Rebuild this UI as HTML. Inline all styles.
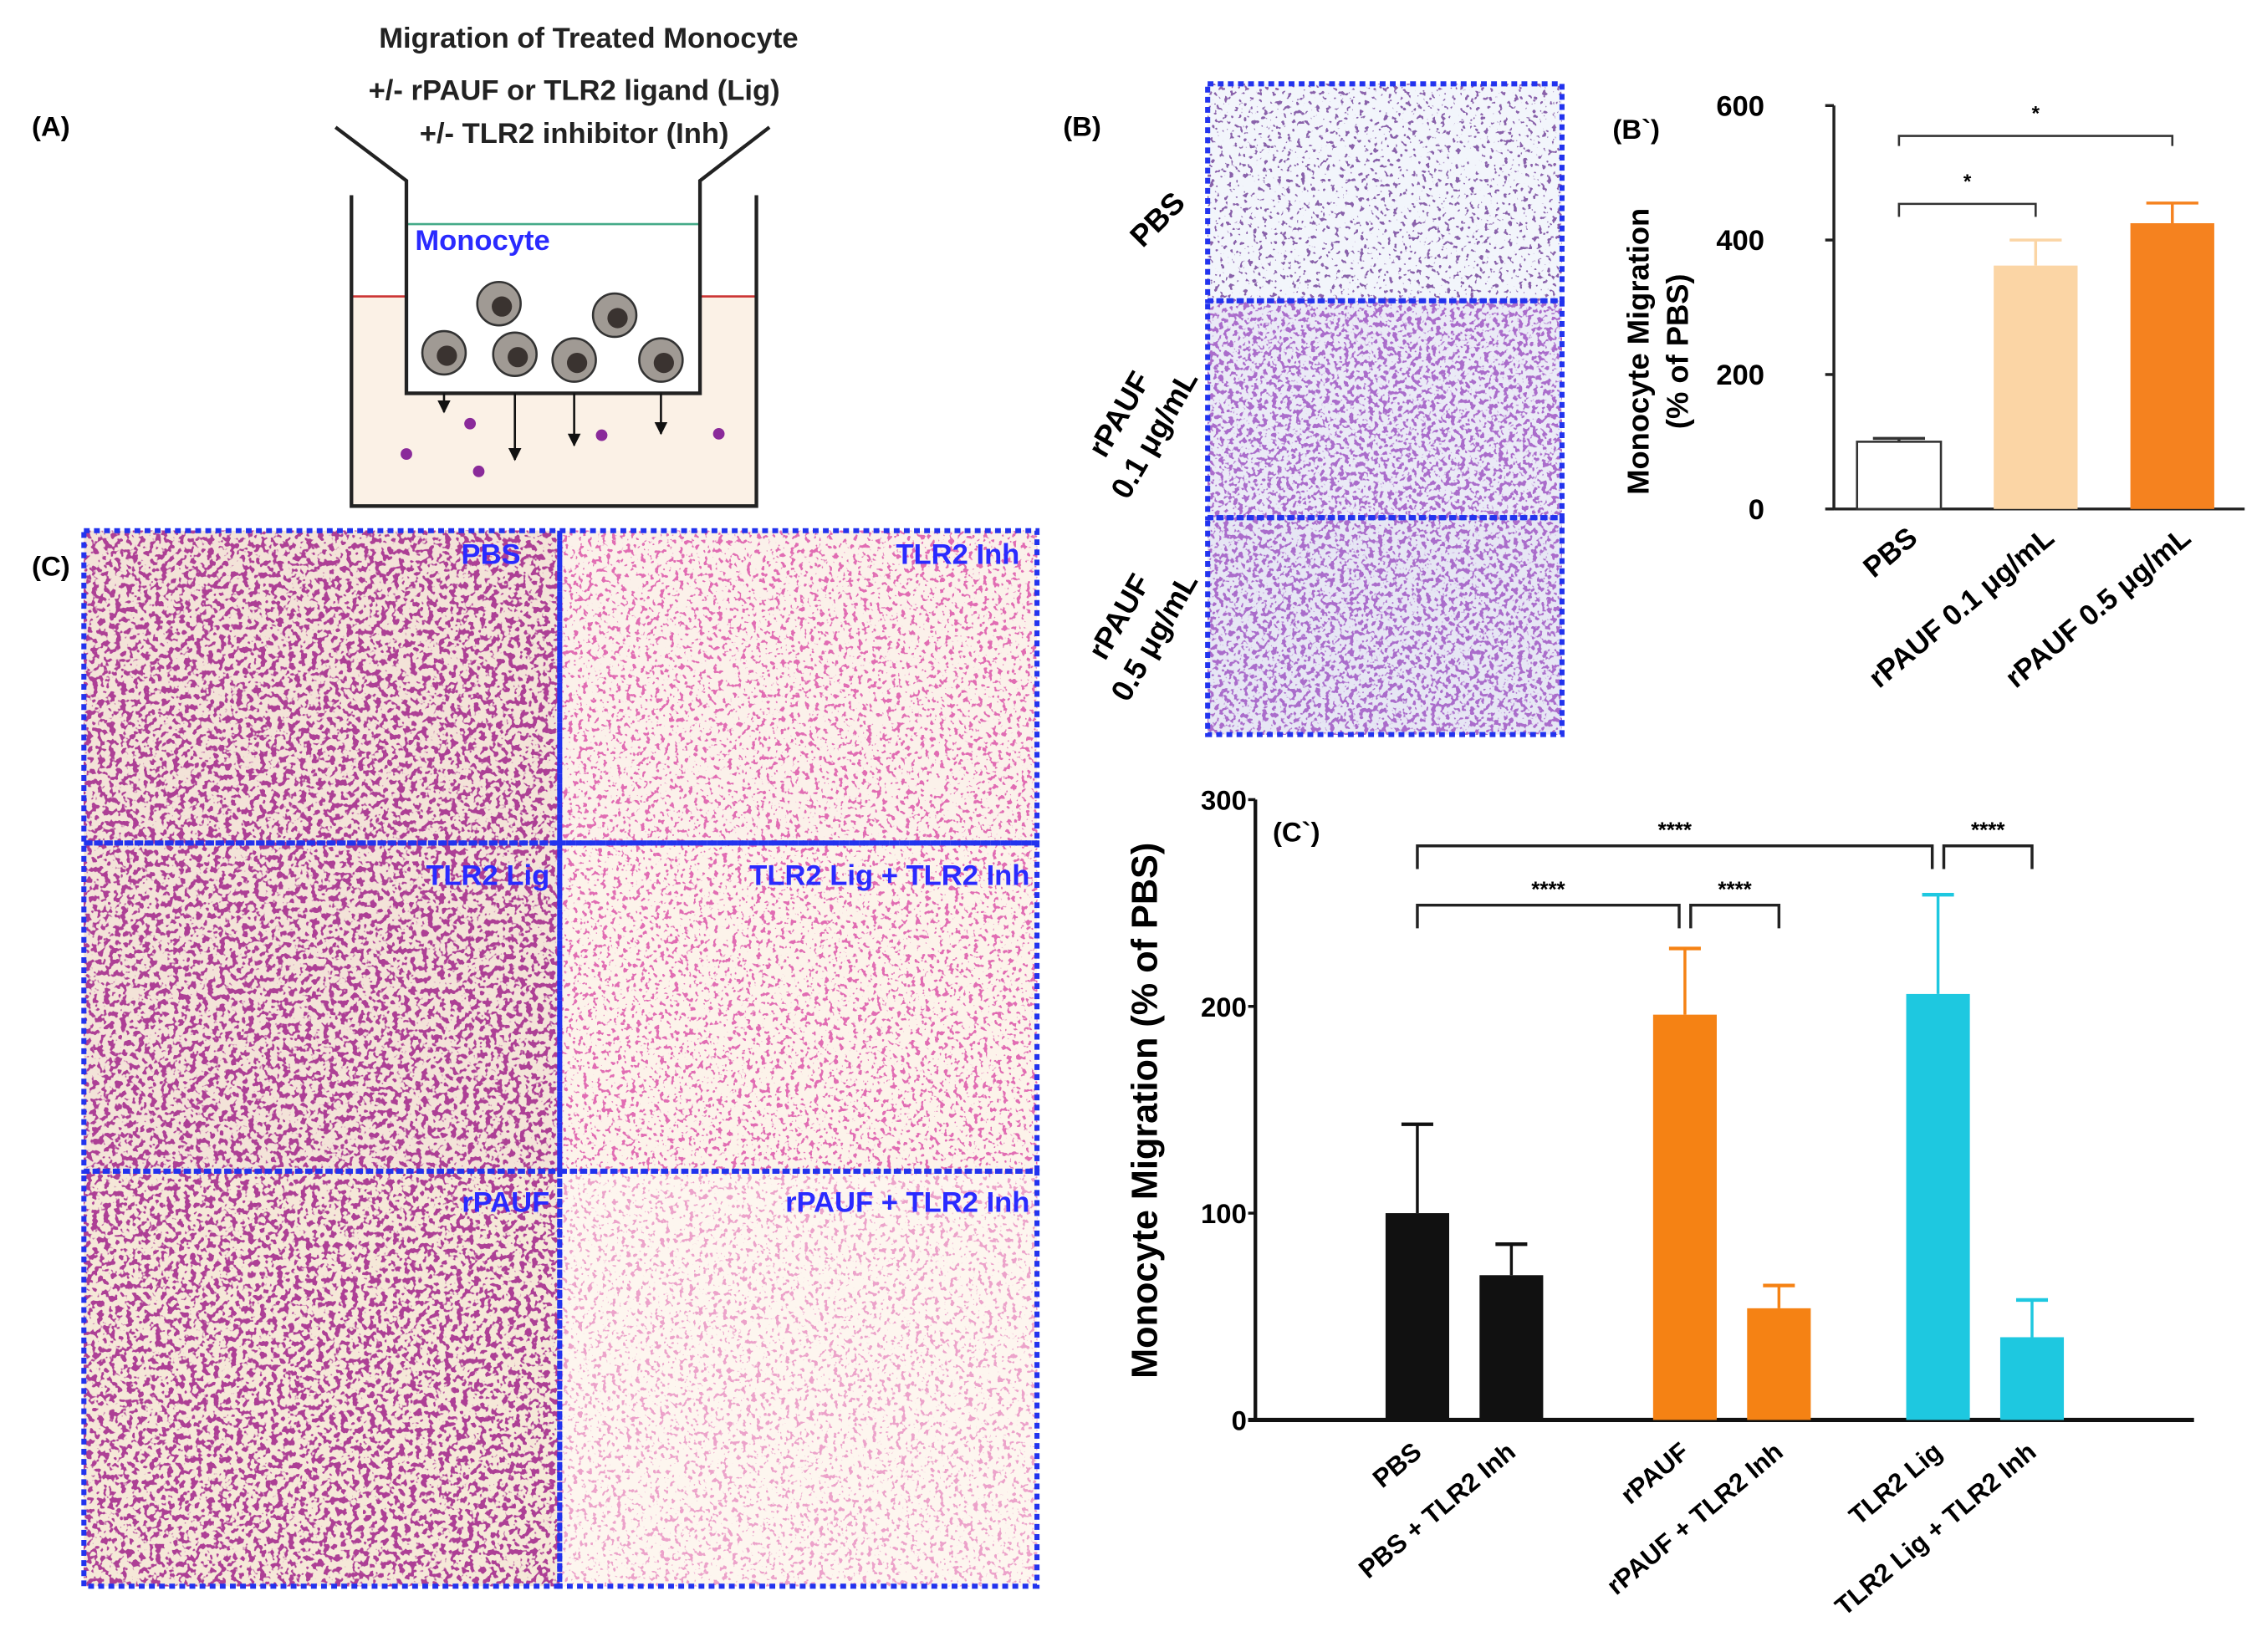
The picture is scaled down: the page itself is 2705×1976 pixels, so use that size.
<!DOCTYPE html>
<html><head><meta charset="utf-8"><style>
html,body{margin:0;padding:0;background:#fff}
svg{display:block}
text{font-family:"Liberation Sans",sans-serif;font-weight:bold}
</style></head><body>
<svg width="2705" height="1976" viewBox="0 0 1564 1142.5" xmlns="http://www.w3.org/2000/svg">
<defs>
<filter id="spPurple" x="0" y="0" width="100%" height="100%">
<feTurbulence type="fractalNoise" baseFrequency="0.3" numOctaves="2" seed="3"/>
<feColorMatrix type="matrix" values="0 0 0 0 0.25  0 0 0 0 0.12  0 0 0 0 0.4  0 0 0 -18 6.8"/>
</filter>
<filter id="spPurpleD" x="0" y="0" width="100%" height="100%">
<feTurbulence type="fractalNoise" baseFrequency="0.3" numOctaves="2" seed="5"/>
<feColorMatrix type="matrix" values="0 0 0 0 0.4  0 0 0 0 0.15  0 0 0 0 0.6  0 0 0 -14 6.6"/>
</filter>
<filter id="spPink" x="0" y="0" width="100%" height="100%">
<feTurbulence type="fractalNoise" baseFrequency="0.25" numOctaves="2" seed="7"/>
<feColorMatrix type="matrix" values="0 0 0 0 0.42  0 0 0 0 0.05  0 0 0 0 0.3  0 0 0 -14 6.7"/>
</filter>
<filter id="spPinkL" x="0" y="0" width="100%" height="100%">
<feTurbulence type="fractalNoise" baseFrequency="0.3" numOctaves="2" seed="9"/>
<feColorMatrix type="matrix" values="0 0 0 0 0.75  0 0 0 0 0.15  0 0 0 0 0.45  0 0 0 -16 6.6"/>
</filter>
<marker id="ah" viewBox="0 0 10 10" refX="9" refY="5" markerWidth="6" markerHeight="6" orient="auto"><path d="M0,0 L10,5 L0,10 z" fill="#111"/></marker>
</defs>

<!-- Panel A -->
<text x="22" y="94" font-size="19">(A)</text>
<g font-size="20" text-anchor="middle" fill="#222">
<text x="407" y="33">Migration of Treated Monocyte</text>
<text x="397" y="69">+/- rPAUF or TLR2 ligand (Lig)</text>
<text x="397" y="99">+/- TLR2 inhibitor (Inh)</text>
</g>
<g>
<rect x="243" y="205" width="280" height="145" fill="#fbf1e6"/>
<line x1="243" y1="205" x2="523" y2="205" stroke="#c33" stroke-width="1.5"/>
<polyline points="243,135 243,350 523,350 523,135" fill="none" stroke="#222" stroke-width="2.5"/>
<rect x="281" y="155" width="203" height="117" fill="#fff"/>
<line x1="281" y1="155" x2="484" y2="155" stroke="#4a8" stroke-width="1.5"/>
<polyline points="232,88 281,125 281,272 484,272 484,125 532,88" fill="none" stroke="#222" stroke-width="2.5"/>
<line x1="281" y1="272" x2="484" y2="272" stroke="#222" stroke-width="2" stroke-dasharray="6,3"/>
<text x="287" y="173" font-size="20" fill="#2a2aff">Monocyte</text>
<g fill="#a09a94" stroke="#333" stroke-width="1.5">
<circle cx="345" cy="210" r="15"/><circle cx="425" cy="218" r="15"/><circle cx="307" cy="244" r="15"/>
<circle cx="356" cy="245" r="15"/><circle cx="397" cy="249" r="15"/><circle cx="457" cy="249" r="15"/>
</g>
<g fill="#3a3330">
<circle cx="347" cy="212" r="7"/><circle cx="427" cy="220" r="7"/><circle cx="309" cy="246" r="7"/>
<circle cx="358" cy="247" r="7"/><circle cx="399" cy="251" r="7"/><circle cx="459" cy="251" r="7"/>
</g>
<g stroke="#111" stroke-width="1.5" marker-end="url(#ah)">
<line x1="307" y1="272" x2="307" y2="285"/><line x1="356" y1="272" x2="356" y2="318"/>
<line x1="397" y1="272" x2="397" y2="308"/><line x1="457" y1="272" x2="457" y2="300"/>
</g>
<g fill="#8a2a9a"><circle cx="281" cy="314" r="4"/><circle cx="325" cy="293" r="4"/><circle cx="331" cy="326" r="4"/><circle cx="416" cy="301" r="4"/><circle cx="497" cy="300" r="4"/></g>
</g>

<!-- Panel B images -->
<text x="735" y="94" font-size="19">(B)</text>
<g>
<rect x="835" y="58" width="245" height="150" fill="#f2f5fb"/>
<rect x="835" y="58" width="245" height="150" filter="url(#spPurple)"/>
<rect x="835" y="208" width="245" height="150" fill="#eaeaf6"/>
<rect x="835" y="208" width="245" height="150" filter="url(#spPurpleD)"/>
<rect x="835" y="358" width="245" height="150" fill="#e6e6f4"/>
<rect x="835" y="358" width="245" height="150" filter="url(#spPurpleD)"/>
<g fill="none" stroke="#2233ee" stroke-width="3.5" stroke-dasharray="4,3">
<rect x="835" y="58" width="245" height="150"/><rect x="835" y="208" width="245" height="150"/><rect x="835" y="358" width="245" height="150"/>
</g>
<text transform="translate(790,172) rotate(-45)" font-size="21">PBS</text>
<text transform="translate(780,290) rotate(-60)" font-size="21" text-anchor="middle"><tspan x="0" y="0">rPAUF</tspan><tspan x="0" y="28">0.1 μg/mL</tspan></text>
<text transform="translate(780,430) rotate(-60)" font-size="21" text-anchor="middle"><tspan x="0" y="0">rPAUF</tspan><tspan x="0" y="28">0.5 μg/mL</tspan></text>
</g>

<!-- Panel B' chart -->
<g id="chartB"></g>

<!-- Panel C images -->
<text x="22" y="398" font-size="19">(C)</text>
<g>
<rect x="58" y="367" width="329" height="216" fill="#f3e3d8"/><rect x="58" y="367" width="329" height="216" filter="url(#spPink)"/>
<rect x="387" y="367" width="330" height="216" fill="#fbf1ea"/><rect x="387" y="367" width="330" height="216" filter="url(#spPinkL)"/>
<rect x="58" y="583" width="329" height="227" fill="#f3e3d8"/><rect x="58" y="583" width="329" height="227" filter="url(#spPink)"/>
<rect x="387" y="583" width="330" height="227" fill="#fcf3ea"/><rect x="387" y="583" width="330" height="227" filter="url(#spPinkL)"/>
<rect x="58" y="810" width="329" height="287" fill="#f5e8d8"/><rect x="58" y="810" width="329" height="287" filter="url(#spPink)"/>
<rect x="387" y="810" width="330" height="287" fill="#fdf6ef"/><rect x="387" y="810" width="330" height="287" filter="url(#spPinkL)" opacity="0.6"/>
<g fill="none" stroke="#2233ee" stroke-width="3.5" stroke-dasharray="4,3">
<rect x="58" y="367" width="329" height="216"/><rect x="387" y="367" width="330" height="216"/>
<rect x="58" y="583" width="329" height="227"/><rect x="387" y="583" width="330" height="227"/>
<rect x="58" y="810" width="329" height="287"/><rect x="387" y="810" width="330" height="287"/>
</g>
<g font-size="20" fill="#2a2aff" text-anchor="end">
<text x="360" y="390">PBS</text><text x="705" y="390">TLR2 Inh</text>
<text x="380" y="612">TLR2 Lig</text><text x="712" y="612">TLR2 Lig + TLR2 Inh</text>
<text x="380" y="838">rPAUF</text><text x="712" y="838">rPAUF + TLR2 Inh</text>
</g>
</g>

<!-- Panel C' chart -->
<g id="chartC"></g>

<script>
// ---- B' data ----
const bCats = ["PBS","rPAUF 0.1 μg/mL","rPAUF 0.5 μg/mL"];
const bVals = [100, 362, 425];
const bErr = [105, 400, 455];
const bTicks = [0,200,400,600];
const bColors = ["#ffffff","#fbd5a5","#f5821f"];
// ---- C' data ----
const cCats = ["PBS","PBS + TLR2 Inh","rPAUF","rPAUF + TLR2 Inh","TLR2 Lig","TLR2 Lig + TLR2 Inh"];
const cVals = [100, 70, 196, 54, 206, 40];
const cErr = [143, 85, 228, 65, 254, 58];
const cTicks = [0,100,200,300];
const cColors = ["#111111","#111111","#f58214","#f58214","#1ec8e0","#1ec8e0"];

const NS="http://www.w3.org/2000/svg";
function mk(parent,tag,attrs,txt){const e=document.createElementNS(NS,tag);for(const k in attrs)e.setAttribute(k,attrs[k]);if(txt!==undefined)e.textContent=txt;parent.appendChild(e);return e;}

// B'
(function(){
const g=document.getElementById('chartB');
const x0=1268,yTop=73,yBot=352,maxV=600;
const y=v=>yBot-(v/maxV)*(yBot-yTop);
const xc=i=>1313+i*94.5;
const bw=58;
mk(g,'line',{x1:x0,y1:yTop,x2:x0,y2:yBot,stroke:'#222','stroke-width':2});
mk(g,'line',{x1:x0,y1:yBot,x2:1552,y2:yBot,stroke:'#222','stroke-width':2});
bTicks.forEach(t=>{
 mk(g,'line',{x1:x0-6,y1:y(t),x2:x0,y2:y(t),stroke:'#222','stroke-width':2});
 const tx=mk(g,'text',{x:x0-48,y:y(t)+7,'font-size':20,'text-anchor':'end'},t);
 
 
});
const yt=mk(g,'text',{transform:'translate(1140,243) rotate(-90)','font-size':21,'text-anchor':'middle'});


mk(yt,'tspan',{x:0,y:0},'Monocyte Migration');mk(yt,'tspan',{x:0,y:27},'(% of PBS)');
mk(g,'text',{x:1115,y:96,'font-size':19},'(B`)');
bVals.forEach((v,i)=>{
 const r=mk(g,'rect',{x:xc(i)-bw/2,y:y(v),width:bw,height:yBot-y(v),fill:bColors[i],stroke:i==0?'#333':'none','stroke-width':1.5});
 
 
 mk(g,'line',{x1:xc(i),y1:y(bErr[i]),x2:xc(i),y2:y(v),stroke:i==0?'#333':bColors[i],'stroke-width':2});
 mk(g,'line',{x1:xc(i)-18,y1:y(bErr[i]),x2:xc(i)+18,y2:y(bErr[i]),stroke:i==0?'#333':bColors[i],'stroke-width':2});
 const l=mk(g,'text',{transform:`translate(${xc(i)+14},${yBot+22}) rotate(-40)`,'font-size':20,'text-anchor':'end'},bCats[i]);
 
 
});
mk(g,'polyline',{points:`${xc(0)},150 ${xc(0)},141 ${xc(1)},141 ${xc(1)},150`,fill:'none',stroke:'#333','stroke-width':1.5});
mk(g,'text',{x:(xc(0)+xc(1))/2,y:130,'font-size':14,'text-anchor':'middle'},'*');
mk(g,'polyline',{points:`${xc(0)},101 ${xc(0)},94 ${xc(2)},94 ${xc(2)},101`,fill:'none',stroke:'#333','stroke-width':1.5});
mk(g,'text',{x:(xc(0)+xc(2))/2,y:83,'font-size':14,'text-anchor':'middle'},'*');
})();

// C'
(function(){
const g=document.getElementById('chartC');
const x0=868,yTop=553,yBot=982,maxV=300;
const y=v=>yBot-(v/maxV)*(yBot-yTop);
const xcs=[980,1045,1165,1230,1340,1405];
const bw=44;
mk(g,'line',{x1:x0,y1:yTop,x2:x0,y2:yBot,stroke:'#111','stroke-width':2.5});
mk(g,'line',{x1:x0-5,y1:yBot,x2:1517,y2:yBot,stroke:'#111','stroke-width':3});
cTicks.forEach(t=>{
 mk(g,'line',{x1:x0-5,y1:y(t),x2:x0,y2:y(t),stroke:'#111','stroke-width':2});
 const tx=mk(g,'text',{x:x0-6,y:y(t)+7,'font-size':19,'text-anchor':'end'},t);
 
 
});
const yt=mk(g,'text',{transform:'translate(800,768) rotate(-90)','font-size':25,'text-anchor':'middle'},'Monocyte Migration (% of PBS)');


mk(g,'text',{x:880,y:582,'font-size':19},'(C`)');
cVals.forEach((v,i)=>{
 const cx=xcs[i];
 const r=mk(g,'rect',{x:cx-bw/2,y:y(v),width:bw,height:yBot-y(v),fill:cColors[i]});
 
 
 mk(g,'line',{x1:cx,y1:y(cErr[i]),x2:cx,y2:y(v),stroke:cColors[i],'stroke-width':2});
 mk(g,'line',{x1:cx-11,y1:y(cErr[i]),x2:cx+11,y2:y(cErr[i]),stroke:cColors[i],'stroke-width':2.5});
 const l=mk(g,'text',{transform:`translate(${cx+4},${yBot+24}) rotate(-40)`,'font-size':18,'text-anchor':'end'},cCats[i]);
 
 
});
function br(a,b,yy,drop){mk(g,'polyline',{points:`${a},${yy+drop} ${a},${yy} ${b},${yy} ${b},${yy+drop}`,fill:'none',stroke:'#222','stroke-width':2});
 mk(g,'text',{x:(a+b)/2,y:yy-6,'font-size':15,'text-anchor':'middle'},'****');}
br(xcs[0],xcs[4]-4,585,16);
br(xcs[4]+4,xcs[5],585,16);
br(xcs[0],xcs[2]-4,626,16);
br(xcs[2]+4,xcs[3],626,16);
})();
</script>
</svg>
</body></html>
